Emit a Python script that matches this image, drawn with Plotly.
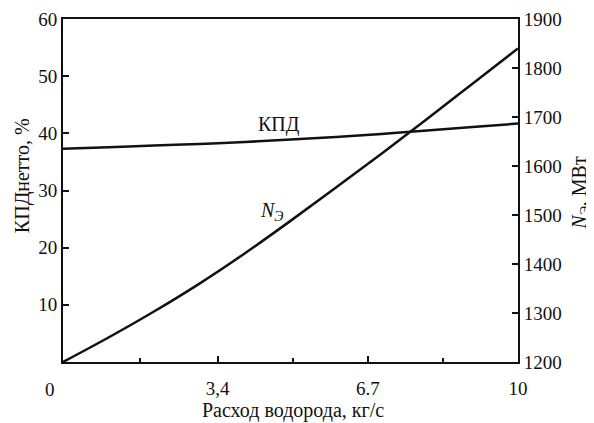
import plotly.graph_objects as go

# Data
flow = [0, 1, 2, 3, 4, 5, 6, 7, 8, 9, 10]                      # Расход водорода, кг/с
kpd = [37.3, 37.55, 37.85, 38.15, 38.5, 38.9, 39.35, 39.9, 40.5, 41.1, 41.7]   # КПД нетто, %
power = [1200, 1250, 1303, 1360, 1422, 1488, 1556, 1625, 1696, 1768, 1840]     # Nэ, МВт

x_tickvals = [0, 3.4, 6.7, 10]
x_ticktext = ["", "3,4", "6.7", "10"]
x_minor = [1.7, 5.05, 8.35]
y_left_ticks = [10, 20, 30, 40, 50, 60]
y_right_ticks = [1200, 1300, 1400, 1500, 1600, 1700, 1800, 1900]

FONT = "Liberation Serif"
black = "#111111"

fig = go.Figure()
fig.add_trace(go.Scatter(x=flow, y=kpd, mode="lines", line=dict(color=black, width=2.5, shape="spline"),
                         showlegend=False))
fig.add_trace(go.Scatter(x=flow, y=power, mode="lines", yaxis="y2",
                         line=dict(color=black, width=2.5, shape="spline"), showlegend=False))

axis_common = dict(showgrid=False, zeroline=False, showline=True, linecolor=black, linewidth=2,
                   ticks="inside", tickcolor=black, tickwidth=1.5,
                   tickfont=dict(family=FONT, size=19, color=black))

# page body has an 8px default margin, so the figure is 8px smaller and margins shifted
fig.update_layout(
    width=586, height=415,
    margin=dict(l=55, r=76, t=11, b=61, autoexpand=False),
    paper_bgcolor="white", plot_bgcolor="white",
    font=dict(family=FONT, size=20, color=black),
    xaxis=dict(range=[0, 10], tickvals=x_tickvals, ticktext=x_ticktext, ticklen=6, mirror=True,
               ticklabelstandoff=8,
               minor=dict(tickvals=x_minor, ticks="inside", ticklen=4, tickcolor=black, tickwidth=1.5),
               **axis_common),
    yaxis=dict(range=[0, 60], tickvals=y_left_ticks, ticklen=6, **axis_common),
    yaxis2=dict(range=[1200, 1900], tickvals=y_right_ticks, ticklen=6, overlaying="y", side="right",
                **axis_common),
    annotations=[
        dict(text="0", x=-0.028, y=-0.079, xref="paper", yref="paper", showarrow=False,
             xanchor="center", yanchor="middle", font=dict(family=FONT, size=19, color=black)),
        dict(text="Расход водорода, кг/с", x=0.505, y=-0.14, xref="paper", yref="paper", showarrow=False,
             xanchor="center", yanchor="middle", font=dict(family=FONT, size=20, color=black)),
        dict(text="КПДнетто, %", x=-0.09, y=0.542, xref="paper", yref="paper", showarrow=False,
             textangle=-90, xanchor="center", yanchor="middle", font=dict(family=FONT, size=20, color=black)),
        dict(text="<i>N</i><sub><i>Э</i></sub>, МВт", x=1.138, y=0.493, xref="paper", yref="paper",
             showarrow=False, textangle=-90, xanchor="center", yanchor="middle",
             font=dict(family=FONT, size=20, color=black)),
        dict(text="КПД", x=4.75, y=41.5, xref="x", yref="y", showarrow=False,
             font=dict(family=FONT, size=20, color=black)),
        dict(text="<i>N</i><sub><i>Э</i></sub>", x=4.6, y=26.3, xref="x", yref="y", showarrow=False,
             font=dict(family=FONT, size=20, color=black)),
    ],
)

fig.write_html("out.html")
